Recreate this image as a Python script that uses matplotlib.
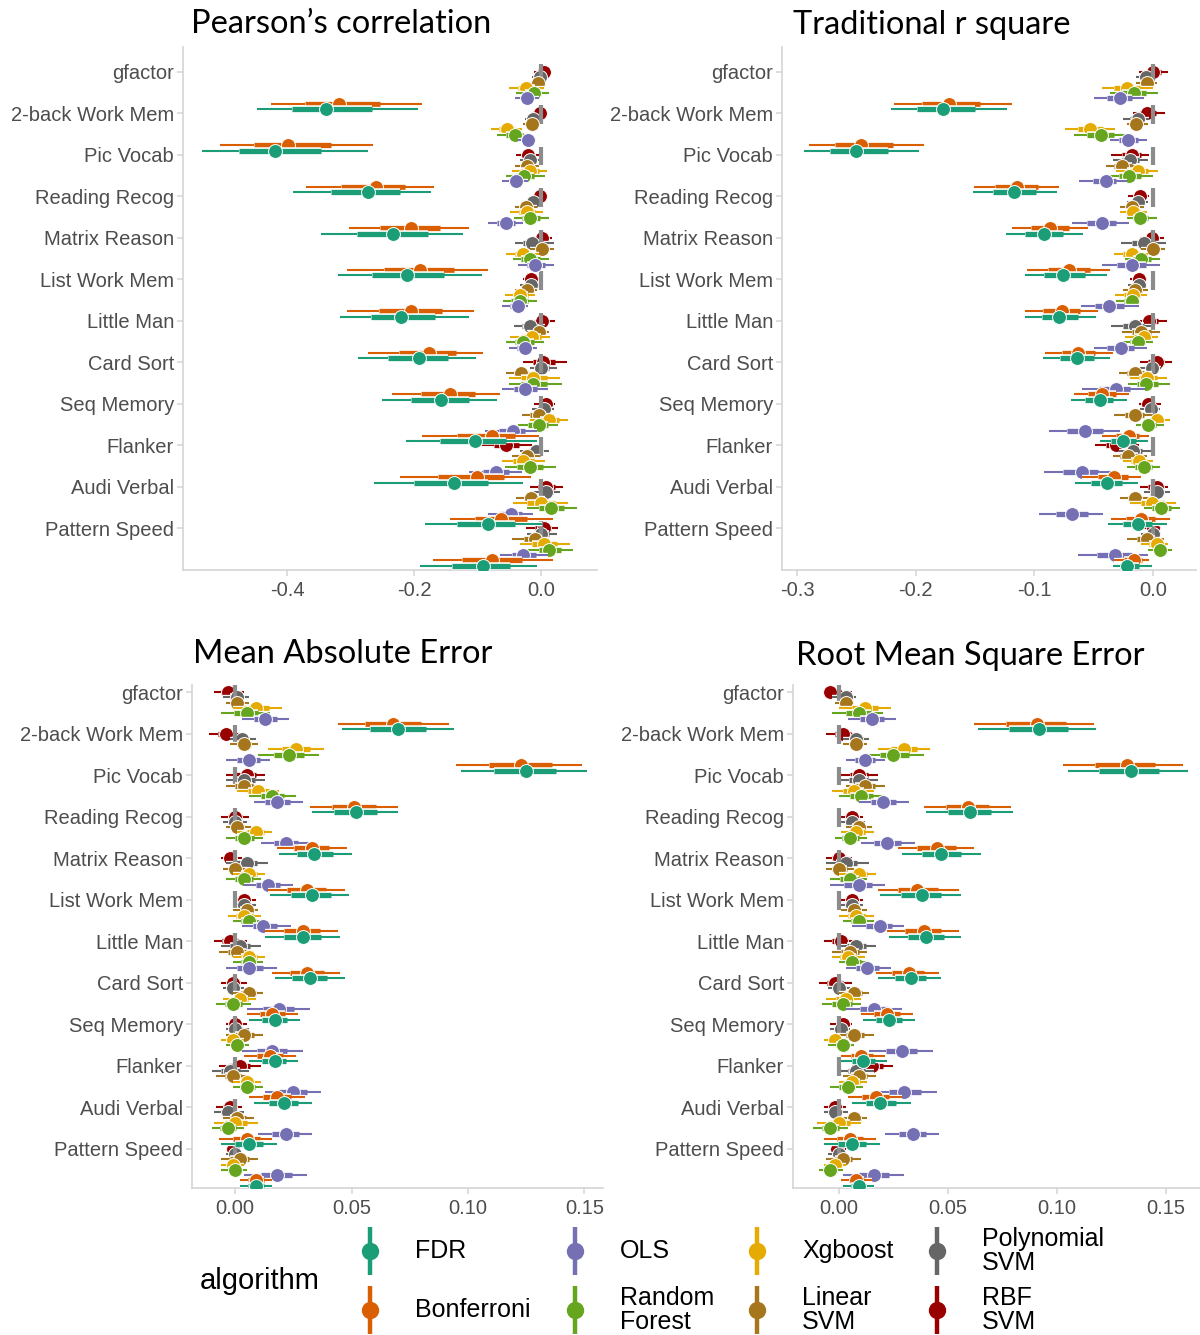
import numpy as np
import matplotlib
matplotlib.use("Agg")
import matplotlib.pyplot as plt
import matplotlib.patheffects as pe

categories = ["gfactor", "2-back Work Mem", "Pic Vocab", "Reading Recog", "Matrix Reason",
              "List Work Mem", "Little Man", "Card Sort", "Seq Memory", "Flanker",
              "Audi Verbal", "Pattern Speed"]
algorithms = ["FDR", "Bonferroni", "OLS", "Random Forest", "Xgboost",
              "Linear SVM", "Polynomial SVM", "RBF SVM"]
legend_labels = ["FDR", "Bonferroni", "OLS", "Random\nForest", "Xgboost",
                 "Linear\nSVM", "Polynomial\nSVM", "RBF\nSVM"]
colors = ["#1B9E77", "#D95F02", "#7570B3", "#66A61E", "#E6AB02",
          "#A6761D", "#666666", "#990000"]

# rows follow `algorithms`, columns follow `categories`
pearson_est = np.array([
    [-0.339, -0.419, -0.272, -0.234, -0.212, -0.221, -0.192, -0.158, -0.104, -0.137, -0.083, -0.091],
    [-0.319, -0.398, -0.260, -0.205, -0.190, -0.205, -0.176, -0.144, -0.078, -0.101, -0.063, -0.078],
    [-0.022, -0.021, -0.039, -0.055, -0.009, -0.036, -0.025, -0.025, -0.045, -0.071, -0.048, -0.028],
    [-0.012, -0.041, -0.027, -0.017, -0.017, -0.034, -0.028, -0.013, -0.004, -0.018, 0.015, 0.013],
    [-0.024, -0.054, -0.017, -0.022, -0.028, -0.033, -0.015, -0.013, 0.013, -0.028, 0.000, 0.004],
    [-0.005, -0.015, -0.022, -0.024, 0.001, -0.022, -0.004, -0.031, -0.004, -0.022, -0.016, -0.009],
    [-0.002, -0.013, -0.017, -0.013, -0.015, -0.016, -0.018, 0.000, 0.005, -0.008, 0.008, 0.000],
    [0.005, -0.001, -0.020, -0.002, 0.001, -0.016, 0.001, 0.003, 0.008, -0.055, 0.008, 0.004],
])
pearson_lo = np.array([
    [-0.447, -0.534, -0.390, -0.346, -0.320, -0.316, -0.289, -0.251, -0.213, -0.263, -0.183, -0.190],
    [-0.426, -0.506, -0.370, -0.303, -0.305, -0.306, -0.272, -0.235, -0.188, -0.223, -0.144, -0.171],
    [-0.041, -0.036, -0.062, -0.083, -0.037, -0.062, -0.051, -0.062, -0.089, -0.113, -0.083, -0.064],
    [-0.039, -0.070, -0.055, -0.043, -0.045, -0.060, -0.055, -0.051, -0.037, -0.057, -0.023, -0.020],
    [-0.050, -0.079, -0.046, -0.049, -0.055, -0.057, -0.049, -0.051, -0.017, -0.062, -0.044, -0.033],
    [-0.015, -0.028, -0.041, -0.041, -0.017, -0.041, -0.023, -0.055, -0.030, -0.046, -0.039, -0.046],
    [-0.015, -0.025, -0.033, -0.025, -0.041, -0.033, -0.043, -0.017, -0.015, -0.033, -0.012, -0.023],
    [-0.012, -0.015, -0.039, -0.013, -0.015, -0.028, -0.012, -0.028, -0.012, -0.093, -0.018, -0.024],
])
pearson_hi = np.array([
    [-0.194, -0.273, -0.173, -0.123, -0.093, -0.114, -0.102, -0.070, -0.007, -0.029, 0.002, -0.007],
    [-0.187, -0.264, -0.168, -0.113, -0.083, -0.106, -0.091, -0.065, -0.004, -0.016, 0.019, 0.019],
    [-0.004, -0.008, -0.020, -0.028, 0.020, -0.020, -0.007, 0.011, -0.007, -0.030, -0.013, 0.011],
    [0.012, -0.017, 0.006, 0.012, 0.012, -0.007, 0.004, 0.033, 0.027, 0.024, 0.056, 0.050],
    [0.004, -0.030, 0.009, 0.003, -0.004, -0.009, 0.014, 0.030, 0.043, 0.006, 0.043, 0.045],
    [0.006, -0.003, -0.004, -0.007, 0.020, -0.007, 0.012, -0.009, 0.020, -0.002, 0.006, 0.012],
    [0.006, 0.000, -0.002, 0.000, 0.020, -0.002, 0.006, 0.025, 0.020, 0.012, 0.030, 0.025],
    [0.015, 0.009, -0.004, 0.009, 0.017, -0.004, 0.022, 0.040, 0.022, -0.014, 0.035, 0.027],
])

rsq_est = np.array([
    [-0.177, -0.250, -0.117, -0.092, -0.076, -0.079, -0.064, -0.045, -0.025, -0.039, -0.013, -0.022],
    [-0.172, -0.246, -0.115, -0.087, -0.071, -0.077, -0.063, -0.043, -0.020, -0.033, -0.010, -0.016],
    [-0.028, -0.021, -0.040, -0.043, -0.018, -0.037, -0.027, -0.031, -0.057, -0.060, -0.068, -0.032],
    [-0.016, -0.044, -0.020, -0.011, -0.010, -0.018, -0.013, -0.006, -0.004, -0.008, 0.007, 0.006],
    [-0.022, -0.053, -0.013, -0.017, -0.018, -0.017, -0.008, -0.005, 0.003, -0.012, -0.001, 0.003],
    [-0.005, -0.014, -0.026, -0.018, 0.000, -0.015, -0.010, -0.015, -0.015, -0.021, -0.015, -0.005],
    [-0.006, -0.013, -0.019, -0.013, -0.008, -0.012, -0.015, -0.001, -0.002, -0.017, 0.003, 0.000],
    [0.000, -0.005, -0.018, -0.011, -0.001, -0.012, -0.003, 0.003, -0.004, -0.031, 0.003, 0.000],
])
rsq_lo = np.array([
    [-0.221, -0.294, -0.152, -0.124, -0.108, -0.108, -0.093, -0.069, -0.045, -0.066, -0.038, -0.034],
    [-0.218, -0.290, -0.151, -0.119, -0.106, -0.108, -0.091, -0.067, -0.043, -0.060, -0.035, -0.033],
    [-0.050, -0.036, -0.062, -0.068, -0.043, -0.061, -0.050, -0.060, -0.088, -0.092, -0.096, -0.063],
    [-0.036, -0.067, -0.038, -0.022, -0.024, -0.031, -0.025, -0.021, -0.014, -0.022, -0.008, -0.004],
    [-0.043, -0.074, -0.031, -0.028, -0.033, -0.032, -0.024, -0.019, -0.008, -0.025, -0.019, -0.010],
    [-0.014, -0.022, -0.040, -0.028, -0.010, -0.025, -0.026, -0.029, -0.033, -0.034, -0.028, -0.022],
    [-0.014, -0.025, -0.034, -0.022, -0.027, -0.021, -0.035, -0.011, -0.011, -0.029, -0.008, -0.010],
    [-0.012, -0.017, -0.035, -0.021, -0.011, -0.019, -0.011, -0.011, -0.012, -0.049, -0.011, -0.008],
])
rsq_hi = np.array([
    [-0.123, -0.197, -0.081, -0.059, -0.039, -0.048, -0.036, -0.022, -0.004, -0.013, 0.012, -0.001],
    [-0.119, -0.193, -0.079, -0.055, -0.036, -0.046, -0.034, -0.020, -0.003, -0.010, 0.014, -0.003],
    [-0.008, -0.005, -0.022, -0.020, 0.006, -0.012, -0.005, -0.007, -0.028, -0.032, -0.042, -0.004],
    [0.004, -0.021, 0.000, 0.003, 0.006, -0.013, 0.000, 0.014, 0.009, 0.006, 0.023, 0.016],
    [0.000, -0.032, 0.004, -0.005, -0.004, -0.005, 0.004, 0.012, 0.014, 0.000, 0.019, 0.013],
    [0.003, -0.004, -0.010, -0.008, 0.010, -0.004, 0.006, -0.001, 0.000, -0.005, -0.003, 0.009],
    [0.002, -0.003, -0.004, -0.004, 0.011, -0.007, -0.001, 0.007, 0.006, -0.002, 0.014, 0.007],
    [0.013, 0.010, -0.003, -0.003, 0.009, -0.005, 0.012, 0.016, 0.007, -0.012, 0.013, 0.007],
])

mae_est = np.array([
    [0.070, 0.125, 0.052, 0.034, 0.033, 0.029, 0.032, 0.017, 0.017, 0.021, 0.006, 0.009],
    [0.068, 0.123, 0.051, 0.033, 0.031, 0.029, 0.031, 0.016, 0.015, 0.018, 0.005, 0.009],
    [0.013, 0.006, 0.018, 0.022, 0.014, 0.012, 0.006, 0.019, 0.016, 0.025, 0.022, 0.018],
    [0.005, 0.023, 0.016, 0.004, 0.004, 0.006, 0.006, -0.001, 0.001, 0.005, -0.003, 0.000],
    [0.009, 0.026, 0.010, 0.009, 0.006, 0.004, 0.006, 0.002, -0.001, 0.005, 0.000, -0.001],
    [0.001, 0.004, 0.004, 0.001, 0.000, 0.005, 0.001, 0.006, 0.004, -0.001, 0.001, 0.002],
    [0.001, 0.003, 0.004, 0.000, 0.005, 0.004, 0.002, -0.001, 0.000, -0.002, -0.003, 0.000],
    [-0.003, -0.004, 0.005, 0.000, -0.002, 0.004, -0.002, -0.001, 0.000, 0.002, -0.002, -0.001],
])
mae_lo = np.array([
    [0.046, 0.097, 0.033, 0.019, 0.015, 0.013, 0.017, 0.006, 0.006, 0.008, -0.006, 0.002],
    [0.044, 0.095, 0.032, 0.018, 0.014, 0.013, 0.016, 0.005, 0.004, 0.006, -0.007, 0.002],
    [0.003, -0.004, 0.008, 0.011, 0.004, 0.003, -0.004, 0.005, 0.003, 0.013, 0.010, 0.004],
    [-0.006, 0.010, 0.006, -0.004, -0.004, -0.001, -0.001, -0.008, -0.004, -0.001, -0.010, -0.006],
    [-0.001, 0.014, 0.001, 0.001, -0.001, -0.003, -0.001, -0.005, -0.006, -0.001, -0.009, -0.006],
    [-0.004, -0.002, -0.004, -0.004, -0.005, -0.001, -0.007, -0.001, -0.004, -0.008, -0.005, -0.006],
    [-0.005, -0.002, -0.004, -0.005, -0.004, -0.001, -0.006, -0.005, -0.004, -0.010, -0.009, -0.004],
    [-0.009, -0.011, -0.004, -0.006, -0.006, 0.000, -0.009, -0.006, -0.004, -0.007, -0.008, -0.004],
])
mae_hi = np.array([
    [0.094, 0.151, 0.070, 0.050, 0.049, 0.045, 0.047, 0.028, 0.027, 0.033, 0.018, 0.016],
    [0.092, 0.149, 0.070, 0.048, 0.047, 0.044, 0.045, 0.027, 0.026, 0.030, 0.016, 0.016],
    [0.023, 0.015, 0.029, 0.032, 0.025, 0.024, 0.018, 0.032, 0.029, 0.037, 0.033, 0.031],
    [0.015, 0.036, 0.026, 0.012, 0.011, 0.012, 0.012, 0.007, 0.006, 0.012, 0.004, 0.005],
    [0.020, 0.038, 0.019, 0.016, 0.013, 0.011, 0.013, 0.009, 0.004, 0.011, 0.010, 0.004],
    [0.006, 0.010, 0.011, 0.007, 0.006, 0.010, 0.008, 0.012, 0.012, 0.006, 0.008, 0.010],
    [0.006, 0.009, 0.013, 0.005, 0.014, 0.009, 0.011, 0.004, 0.006, 0.006, 0.004, 0.004],
    [0.004, 0.003, 0.013, 0.006, 0.003, 0.009, 0.005, 0.005, 0.005, 0.011, 0.003, 0.002],
])

rmse_est = np.array([
    [0.092, 0.134, 0.060, 0.047, 0.038, 0.040, 0.033, 0.023, 0.011, 0.019, 0.006, 0.009],
    [0.091, 0.132, 0.059, 0.045, 0.036, 0.039, 0.032, 0.022, 0.010, 0.017, 0.005, 0.008],
    [0.015, 0.012, 0.020, 0.022, 0.009, 0.019, 0.013, 0.016, 0.029, 0.030, 0.034, 0.016],
    [0.009, 0.025, 0.010, 0.005, 0.005, 0.009, 0.006, 0.002, 0.002, 0.004, -0.004, -0.004],
    [0.012, 0.030, 0.007, 0.008, 0.009, 0.008, 0.004, 0.003, -0.002, 0.006, 0.000, -0.002],
    [0.003, 0.008, 0.012, 0.009, 0.000, 0.007, 0.005, 0.007, 0.007, 0.009, 0.007, 0.002],
    [0.003, 0.008, 0.009, 0.006, 0.003, 0.006, 0.008, 0.000, 0.001, 0.008, -0.002, 0.000],
    [-0.004, 0.002, 0.009, 0.006, 0.000, 0.006, 0.001, -0.002, 0.002, 0.015, -0.002, -0.001],
])
rmse_lo = np.array([
    [0.064, 0.105, 0.040, 0.029, 0.019, 0.023, 0.018, 0.011, 0.001, 0.006, -0.007, 0.002],
    [0.062, 0.103, 0.039, 0.027, 0.018, 0.022, 0.017, 0.010, 0.001, 0.004, -0.007, 0.001],
    [0.004, 0.003, 0.009, 0.010, -0.004, 0.006, 0.003, 0.003, 0.014, 0.016, 0.021, 0.002],
    [-0.003, 0.013, 0.000, -0.002, -0.004, 0.002, 0.000, -0.008, -0.005, -0.004, -0.012, -0.009],
    [0.000, 0.018, -0.003, 0.001, 0.000, 0.000, -0.003, -0.006, -0.007, 0.000, -0.010, -0.007],
    [-0.002, 0.002, 0.003, 0.003, -0.006, 0.001, -0.003, 0.000, -0.001, 0.002, 0.002, -0.006],
    [-0.003, 0.002, 0.000, 0.000, -0.006, 0.000, -0.001, -0.005, -0.004, 0.000, -0.007, -0.005],
    [-0.007, -0.006, 0.001, 0.000, -0.006, 0.001, -0.007, -0.009, -0.004, 0.006, -0.007, -0.004],
])
rmse_hi = np.array([
    [0.118, 0.160, 0.080, 0.065, 0.056, 0.056, 0.047, 0.035, 0.022, 0.033, 0.019, 0.016],
    [0.117, 0.158, 0.079, 0.062, 0.055, 0.055, 0.046, 0.034, 0.021, 0.029, 0.017, 0.015],
    [0.026, 0.021, 0.032, 0.035, 0.021, 0.030, 0.024, 0.029, 0.043, 0.045, 0.046, 0.030],
    [0.020, 0.039, 0.021, 0.013, 0.013, 0.016, 0.014, 0.010, 0.007, 0.011, 0.004, 0.002],
    [0.024, 0.042, 0.016, 0.016, 0.017, 0.016, 0.012, 0.010, 0.003, 0.013, 0.010, 0.003],
    [0.007, 0.013, 0.021, 0.015, 0.007, 0.013, 0.013, 0.014, 0.016, 0.017, 0.013, 0.010],
    [0.008, 0.014, 0.018, 0.012, 0.014, 0.011, 0.017, 0.005, 0.005, 0.016, 0.004, 0.003],
    [0.006, 0.009, 0.018, 0.011, 0.006, 0.011, 0.007, 0.006, 0.006, 0.025, 0.003, 0.003],
])

STEP = 0.128      # vertical dodge between algorithms inside a category
INNER = 0.5       # thick (66%) interval drawn at half the width of the thin one
LABEL_FONT = "Liberation Sans"
TITLE_FONT = "Lato"
TEXT_GREY = "#4d4d4d"
AXIS_GREY = "#d4d4d4"
W, H = 1200, 1335


def halo(lw):
    return [pe.withStroke(linewidth=lw + 1.6, foreground="white")]


def panel(rect, est, lo, hi, xlim, ylim, xticks, xticklabels, title, title_xy):
    x0, x1, ytop, ybot = rect
    ax = fig.add_axes([x0 / W, 1 - ybot / H, (x1 - x0) / W, (ybot - ytop) / H])
    rows = np.arange(len(categories))
    n = len(algorithms)
    for k in range(n):
        j = n - 1 - k   # RBF sits at the top of each group, FDR at the bottom
        y = rows + j * STEP
        z = 10 + 3 * j
        in_lo = est[k] + INNER * (lo[k] - est[k])
        in_hi = est[k] + INNER * (hi[k] - est[k])
        ax.hlines(y, lo[k], hi[k], color=colors[k], lw=1.5, zorder=z,
                  capstyle="butt", path_effects=halo(1.5))
        ax.hlines(y, in_lo, in_hi, color=colors[k], lw=3.8, zorder=z + 1,
                  capstyle="butt", path_effects=halo(3.8))
        ax.scatter(est[k], y, s=100, color=colors[k], edgecolors="white",
                   linewidths=0.7, zorder=z + 2)
    # grey reference marks at zero, drawn over the two top algorithms
    ax.vlines(np.zeros(len(rows)), rows - 0.2, rows + 0.25, color="#8c8c8c",
              lw=3.0, zorder=15.5, capstyle="butt")

    ax.set_xlim(*xlim)
    ax.set_ylim(*ylim)
    ax.set_yticks(rows)
    ax.set_yticklabels(categories, fontfamily=LABEL_FONT)
    ax.set_xticks(xticks)
    ax.set_xticklabels(xticklabels, fontfamily=LABEL_FONT)
    ax.tick_params(axis="both", color=AXIS_GREY, labelcolor=TEXT_GREY,
                   labelsize=14.5, length=4, width=1.1, pad=4)
    ax.tick_params(axis="y", pad=2.5)
    for s in ["top", "right"]:
        ax.spines[s].set_visible(False)
    for s in ["left", "bottom"]:
        ax.spines[s].set_color(AXIS_GREY)
        ax.spines[s].set_linewidth(1.2)
    ax.patch.set_alpha(0)
    fig.text(title_xy[0] / W, 1 - title_xy[1] / H, title, fontsize=23.5,
             fontfamily=TITLE_FONT, color="black", ha="left", va="center")
    return ax


fig = plt.figure(figsize=(W / 100, H / 100), dpi=100)

panel((183, 597, 47, 570), pearson_est, pearson_lo, pearson_hi,
      (-0.564, 0.088), (12.0, -0.6), [-0.4, -0.2, 0.0], ["-0.4", "-0.2", "0.0"],
      "Pearson\u2019s correlation", (191, 24))
panel((782, 1196, 47, 570), rsq_est, rsq_lo, rsq_hi,
      (-0.3126, 0.0362), (12.0, -0.6), [-0.3, -0.2, -0.1, 0.0],
      ["-0.3", "-0.2", "-0.1", "0.0"], "Traditional r square", (793, 25))
panel((192, 603, 685, 1188), mae_est, mae_lo, mae_hi,
      (-0.0185, 0.158), (11.95, -0.17), [0.0, 0.05, 0.10, 0.15],
      ["0.00", "0.05", "0.10", "0.15"], "Mean Absolute Error", (193, 654))
panel((793, 1200, 685, 1188), rmse_est, rmse_lo, rmse_hi,
      (-0.0211, 0.1657), (11.95, -0.17), [0.0, 0.05, 0.10, 0.15],
      ["0.00", "0.05", "0.10", "0.15"], "Root Mean Square Error", (796, 656))

# legend, laid out in figure pixels
leg = fig.add_axes([0, 0, 1, 1])
leg.set_xlim(0, W)
leg.set_ylim(H, 0)
leg.axis("off")
leg.patch.set_alpha(0)
leg.text(200, 1281, "algorithm", fontsize=21, fontfamily=LABEL_FONT,
         ha="left", va="center", color="black")
key_x = [370, 575, 757, 937]
key_y = [1251, 1310]
for k, lab in enumerate(legend_labels):
    kx = key_x[k // 2]
    ky = key_y[k % 2]
    leg.plot([kx, kx], [ky - 24, ky + 24], color=colors[k], lw=3.2,
             solid_capstyle="butt")
    leg.plot([kx], [ky], marker="o", ms=11.5, color=colors[k], mec=colors[k])
    leg.text(kx + 45, ky, lab, fontsize=18, fontfamily=LABEL_FONT,
             ha="left", va="center", color="black", linespacing=1.05)

fig.savefig("out.png", dpi=100, facecolor="white")
